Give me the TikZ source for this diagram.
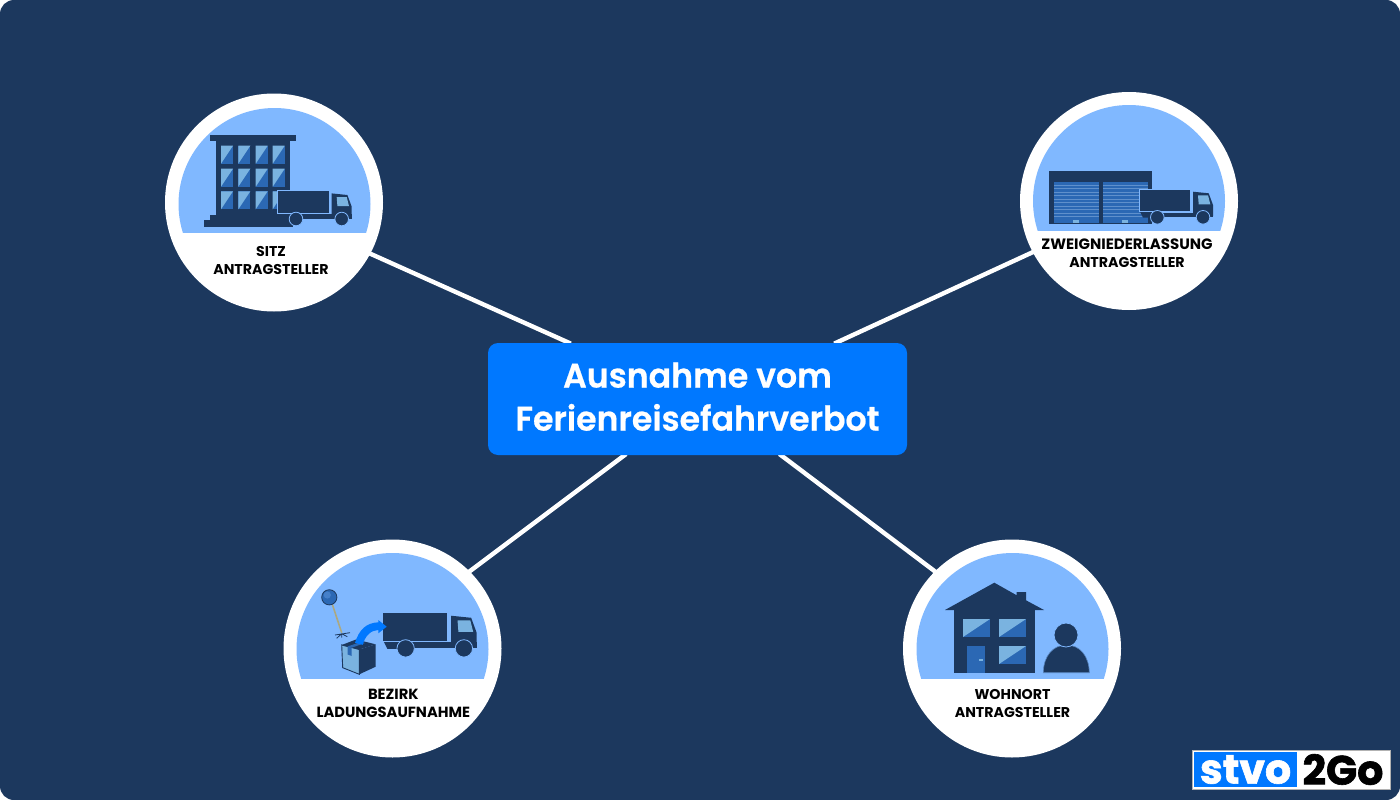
\documentclass[tikz,border=0pt]{standalone}
\usepackage{fontspec}
\setmainfont{Poppins}
\newfontfamily\hubfont{Poppins SemiBold}[FakeStretch=0.975,FakeBold=0.6]
\newfontfamily\logofont{Poppins}[FakeBold=1.5]
\usetikzlibrary{calc}
\pgfdeclarelayer{ground}
\pgfdeclarelayer{wires}
\pgfsetlayers{ground,wires,main}
\definecolor{navy}{HTML}{1C385E}
\definecolor{sky}{HTML}{80B8FF}
\definecolor{vivid}{HTML}{0078FF}
\definecolor{glass}{HTML}{7AB3E0}
\definecolor{pane}{HTML}{2B68B4}
\definecolor{slat}{HTML}{5F90CC}
\tikzset{
  disc/.style={circle,fill=white,minimum size=218pt,inner sep=0pt},
  link/.style={draw=white,line width=4.4pt,shorten <=-2pt,shorten >=-2pt},
  tag/.style={font=\bfseries\fontsize{14.2}{18}\selectfont,align=center,text=black,inner sep=0pt},
  mainbox/.style={fill=vivid,rounded corners=10pt,minimum width=419pt,minimum height=112pt,inner sep=0pt,
     text=white,align=center,font=\hubfont\fontsize{34}{43}\selectfont},
  trucksym/.pic={
    \fill[navy] (1,22.7) -- (4,28.7) -- (15,28.7) -- (15,22.7) -- cycle;
    \fill[navy] (15,23.6) rectangle (74,27.8);
    \fill[navy] (54,2.7) -- (69.7,4.3) -- (74,16) -- (74,27) -- (54,27) -- cycle;
    \fill[glass] (59,6.3) -- (69,6.3) -- (71.3,15.3) -- (59.7,15.3) -- cycle;
    \filldraw[navy,draw=sky,line width=.8pt] (0,0) rectangle (51.3,22.7);
    \filldraw[navy,draw=sky,line width=.8pt] (18.3,28.3) circle[radius=6.8];
    \filldraw[navy,draw=sky,line width=.8pt] (64,28.3) circle[radius=6.8];
  }
}
\newcommand{\glasspane}[4]{%
  \fill[pane] (#1,#2) rectangle ++(#3,#4);
  \fill[glass] (#1,#2) -- ++(#3,0) -- ++(-#3,#4) -- cycle;}
\newcommand{\skydome}[3]{%
  \begin{scope}
    \clip (#1-110,#2-110) rectangle (#1+110,#3);
    \fill[sky] (#1,#2) circle[radius=96];
  \end{scope}}
\begin{document}
\begin{tikzpicture}[x=1pt,y=-1pt]
\useasboundingbox (0,0) rectangle (1400,800);
\begin{pgfonlayer}{ground}
\fill[white] (0,0) rectangle (1400,800);
\fill[navy,rounded corners=14pt] (0,0) rectangle (1400,800);
\end{pgfonlayer}

\node[disc] (c1) at (274,202.5) {};
\node[disc] (c2) at (1129,201) {};
\node[disc] (c3) at (392.5,648.5) {};
\node[disc] (c4) at (1012,648.5) {};
\node[mainbox] (hub) at (697.5,399) {Ausnahme vom\\Ferienreisefahrverbot\rule[-5pt]{0pt}{5pt}};

\begin{pgfonlayer}{wires}
\draw[link] (c1.-28) -- ([xshift=-128.5pt]hub.north);
\draw[link] (c2.208.7) -- ([xshift=138.5pt]hub.north);
\draw[link] (c3.45.7) -- ([xshift=-73pt]hub.south);
\draw[link] (c4.135.6) -- ([xshift=83.5pt]hub.south);
\end{pgfonlayer}

\skydome{274.5}{204}{232}
\skydome{1129}{201}{230}
\skydome{392.5}{649}{678}
\skydome{1012.5}{649}{678}

% office building
\fill[navy] (210,134.7) rectangle (296,140.7);
\fill[navy] (215.7,140.7) rectangle (290,216);
\fill[navy] (210,214.7) rectangle (290,221);
\fill[navy] (204.3,220.3) rectangle (293,226.7);
\foreach \py in {145.7,168.7,191.3}
  \foreach \px in {221,238.3,255.7,272.7}
    {\glasspane{\px}{\py}{12}{18}}
\pic at (277.7,190.7) {trucksym};

% warehouse
\fill[navy] (1049,170.7) rectangle (1151.7,224);
\foreach \dx in {1054,1103}{
  \fill[pane] (\dx,182) rectangle ++(45.3,41.3);
  \foreach \sy in {184.5,188,191.5,195,198.5,202,205.5,209,212.5,216}
    \fill[slat] (\dx,\sy) rectangle ++(45.3,.9);
  \fill[glass] (\dx+18.7,220) rectangle ++(6.3,2.7);
}
\pic at (1139,189) {trucksym};

% pin, box, truck, arrow
\draw[gray!75!yellow,line width=1.6pt] (332.3,604.3) -- (341.7,632.7);
\draw[navy,line width=.8pt] (335,635) -- (350,632.7) (341.7,633.7) -- (336.7,638.3) (341.7,633.7) -- (341.7,637.7) (341.7,633.7) -- (347.3,636.7);
\filldraw[pane,draw=navy,line width=.8pt] (329.3,597.3) circle[radius=7.6];
\fill[pane!70!sky] (327.3,595) circle[radius=3.6];
\pic[scale=1.275] at (382.3,612.3) {trucksym};
\filldraw[glass,draw=navy,line width=.9pt] (341.7,645) -- (359.3,649.5) -- (359.3,674.3) -- (342.7,667.7) -- cycle;
\fill[navy] (359.3,649.5) -- (375.7,644.3) -- (375.7,666.7) -- (359.3,674.3) -- cycle;
\fill[navy] (341.7,645) -- (356,639.5) -- (375.7,644.3) -- (359.3,649.5) -- cycle;
\fill[pane] (347.5,646.5) -- (351.7,647.7) -- (351.7,656) -- (347.7,654.5) -- cycle;
\fill[pane] (347.5,646.5) -- (361,641.8) -- (365,643) -- (351.7,647.7) -- cycle;
\fill[vivid] (355,642.8) .. controls (359,630) and (366,622.8) .. (378.3,622.3) -- (378.3,620) -- (386.7,626.7) -- (378.3,633.3) -- (378.3,630) .. controls (371,630) and (365,636) .. (362.7,644.8) -- cycle;

% house
\fill[navy] (945,610) -- (994.3,582.7) -- (1016.7,595.3) -- (1016.7,592) -- (1026,592) -- (1026,600.3) -- (1044,610) -- cycle;
\fill[navy] (954,610) rectangle (1035,673);
\glasspane{963}{619}{27}{18}
\glasspane{999}{619}{27}{18}
\glasspane{999}{646}{27}{18}
\fill[pane] (967,646) rectangle (985,673);
\fill[glass] (979,659.3) rectangle (982.7,660.7);

% person
\filldraw[navy,draw=sky!60!navy,line width=.6pt] (1043.3,672.7) .. controls (1043.5,656) and (1053,645) .. (1066.3,645) .. controls (1080,645) and (1089,656) .. (1089.3,672.7) -- cycle;
\filldraw[navy,draw=sky,line width=.8pt] (1066,635) circle[radius=12];

% labels
\node[tag] (t1) at (271,260.4) {SITZ\\ANTRAGSTELLER};
\node[tag,font=\bfseries\fontsize{15}{18}\selectfont] (t2) at (1127,253.7) {ZWEIGNIEDERLASSUNG\\{\fontsize{14.2}{18}\selectfont ANTRAGSTELLER}};
\node[tag,font=\bfseries\fontsize{14.7}{18}\selectfont] (t3) at (393.3,703.7) {BEZIRK\\LADUNGSAUFNAHME};
\node[tag] (t4) at (1012.5,703.7) {WOHNORT\\ANTRAGSTELLER};

% logo
\node[draw=gray!60,fill=white,line width=.7pt,minimum width=198pt,minimum height=39pt,inner sep=0pt] (logo) at (1291,769.5) {};
\node[fill=vivid,minimum width=103pt,minimum height=35pt,inner sep=0pt,text=white,font=\logofont\bfseries\fontsize{41}{41}\selectfont] (lg1) at (1245.5,769.5) {stvo};
\node[text=black,inner sep=0pt,font=\logofont\bfseries\fontsize{41}{41}\selectfont] (lg2) at (1343,769.5) {2Go};
\end{tikzpicture}
\end{document}
